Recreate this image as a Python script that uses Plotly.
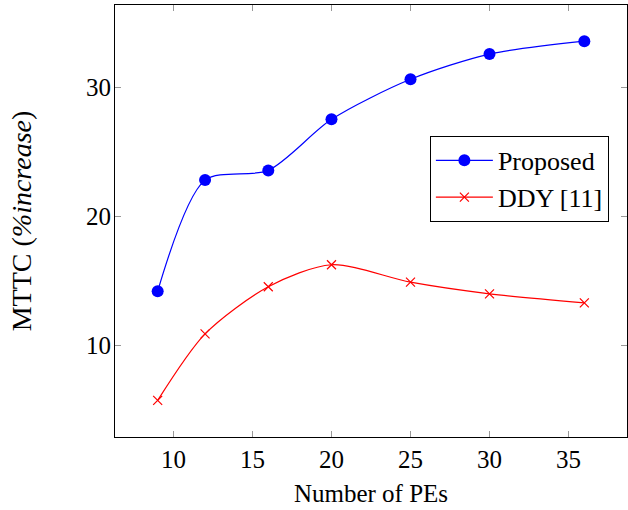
import plotly.graph_objects as go

pes = [9, 12, 16, 20, 25, 30, 36]
proposed = [14.2, 22.8, 23.55, 27.5, 30.6, 32.55, 33.55]
ddy = [5.75, 10.9, 14.55, 16.25, 14.9, 14.0, 13.3]
xticks = [10, 15, 20, 25, 30, 35]
yticks = [10, 20, 30]

FONT = "Liberation Serif"

fig = go.Figure()
fig.add_trace(go.Scatter(
    x=pes, y=proposed, name="Proposed", mode="lines+markers",
    line=dict(color="#0000ff", width=1.2, shape="spline", smoothing=0.8),
    marker=dict(symbol="circle", size=12, color="#0000ff"),
))
fig.add_trace(go.Scatter(
    x=pes, y=ddy, name="DDY [11]", mode="lines+markers",
    line=dict(color="#ff0000", width=1.2, shape="spline", smoothing=0.8),
    marker=dict(symbol="x-thin", size=9, line=dict(color="#ff0000", width=1.2)),
))

fig.update_layout(
    width=628, height=510, autosize=False,
    margin=dict(l=115, r=1, t=5, b=73),
    paper_bgcolor="white", plot_bgcolor="white",
    font=dict(family=FONT, size=25, color="black"),
    showlegend=True,
    legend=dict(
        x=0.615, y=0.697, xanchor="left", yanchor="top",
        bgcolor="white", bordercolor="black", borderwidth=1,
        font=dict(family=FONT, size=26),
        tracegroupgap=0, itemwidth=57,
    ),
)
fig.update_xaxes(
    range=[6.3, 38.7], tickvals=xticks, ticktext=[str(v) for v in xticks],
    showgrid=False, zeroline=False, automargin=False,
    showline=True, linecolor="black", linewidth=1, mirror="allticks",
    ticks="inside", ticklen=6, tickcolor="#999999", tickwidth=1,
    tickfont=dict(family=FONT, size=25),
    title=dict(text="Number of PEs", font=dict(family=FONT, size=25), standoff=12),
)
fig.update_yaxes(
    range=[2.92, 36.35], tickvals=yticks, ticktext=[str(v) for v in yticks],
    showgrid=False, zeroline=False, automargin=False,
    showline=True, linecolor="black", linewidth=1, mirror="allticks",
    ticks="inside", ticklen=6, tickcolor="#999999", tickwidth=1,
    tickfont=dict(family=FONT, size=25), ticklabelstandoff=-2,
    title=dict(text="MTTC (<i>%increase</i>)", font=dict(family=FONT, size=28), standoff=46),
)

post = (
    "document.body.style.margin='0';"
    "document.body.style.padding='0';"
    "document.body.style.overflow='hidden';"
)
fig.write_html("out.html", config={"responsive": False, "displayModeBar": False},
               post_script=post)
